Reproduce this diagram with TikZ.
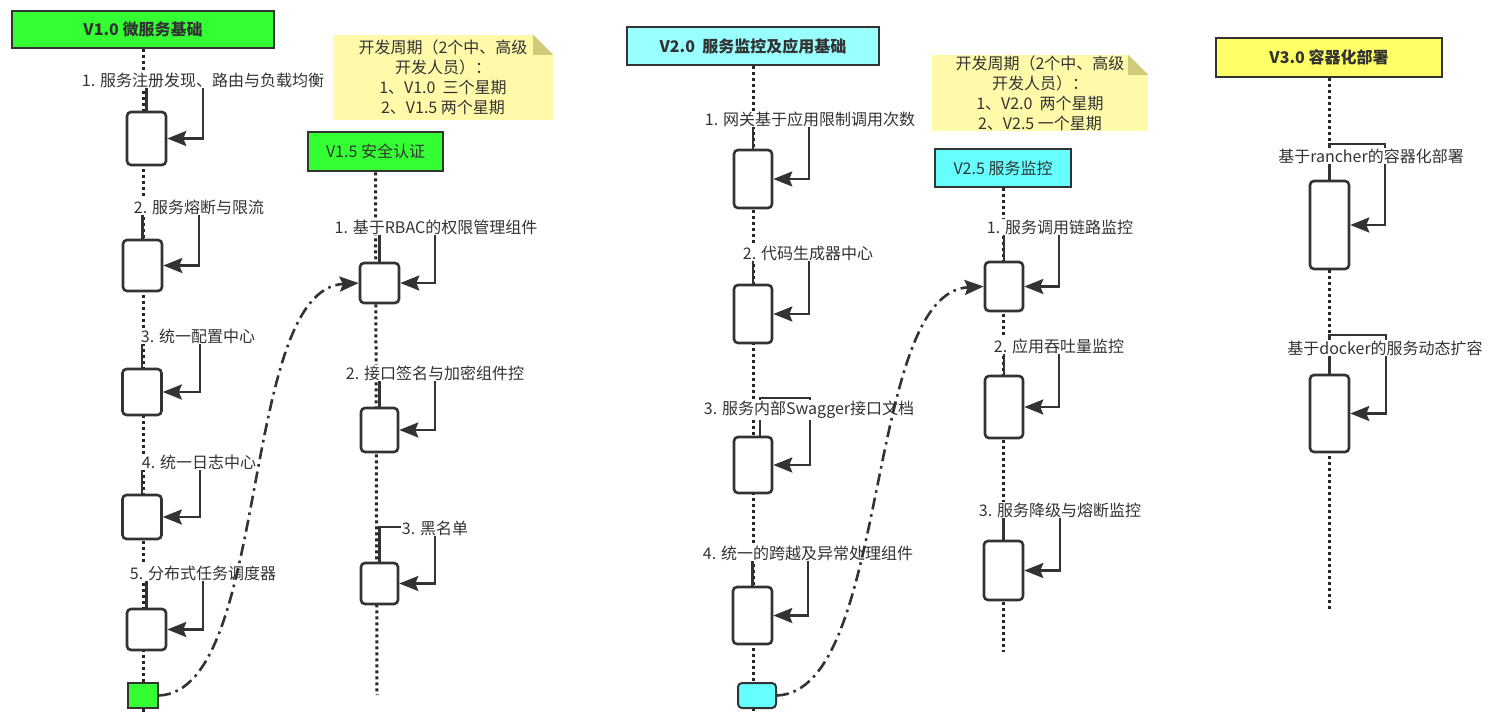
\documentclass[tikz,border=0pt]{standalone}
\usepackage{fontspec}
\setmainfont{Noto Sans CJK SC}
\usetikzlibrary{arrows.meta,backgrounds}
\definecolor{ink}{HTML}{333333}
\definecolor{hdrgreen}{HTML}{33FF33}
\definecolor{hdrcyan}{HTML}{99FFFF}
\definecolor{hdraqua}{HTML}{66FFFF}
\definecolor{hdryellow}{HTML}{FFFF66}
\definecolor{notefill}{HTML}{FFFAAA}
\definecolor{notefold}{HTML}{CFCB78}

\begin{document}
\begin{tikzpicture}[x=1pt, y=-1pt,
    hdr/.style={draw=ink, line width=2.6pt, text=ink, inner sep=0pt, font=\fontsize{16}{20}\selectfont},
    act/.style={draw=ink, line width=2.6pt, fill=white, rounded corners=4pt, inner sep=0pt, minimum width=39pt},
    lbl/.style={fill=white, text=ink, inner sep=1pt, font=\fontsize{16}{20}\selectfont},
    msg/.style={draw=ink, line width=2.6pt, -{Stealth[length=19pt,width=15pt,inset=3pt]}},
    life/.style={draw=black!85, line width=3pt, dash pattern=on 3pt off 3pt},
    async/.style={draw=ink, line width=2.6pt, dash pattern=on 12pt off 5pt on 2.6pt off 5pt, -{Stealth[length=19pt,width=15pt,inset=3pt]}},
    note/.style={fill=notefill, text=ink, align=center, inner sep=0pt, font=\fontsize{16}{20}\selectfont}
]
\useasboundingbox (0,0) rectangle (1493,714);

% headers
\node[hdr, fill=hdrgreen, minimum width=262pt, minimum height=37pt, font=\fontsize{16}{20}\selectfont\bfseries] (v10) at (143,29.5) {V1.0 微服务基础};
\node[hdr, fill=hdrgreen, minimum width=135pt, minimum height=39pt] (v15) at (375.5,151.5) {V1.5 安全认证};
\node[hdr, fill=hdrcyan, minimum width=252pt, minimum height=38pt, font=\fontsize{16}{20}\selectfont\bfseries] (v20) at (753,46) {V2.0\ \ 服务监控及应用基础};
\node[hdr, fill=hdraqua, minimum width=136pt, minimum height=38pt] (v25) at (1003,168) {V2.5 服务监控};
\node[hdr, fill=hdryellow, minimum width=226pt, minimum height=39pt, font=\fontsize{16}{20}\selectfont\bfseries] (v30) at (1329,57.5) {V3.0 容器化部署};

% notes
\node[note, minimum width=220pt, minimum height=85pt] (n1) at (443,77.5) {开发周期（2个中、高级\\开发人员）：\\1、V1.0\ \ 三个星期\\2、V1.5 两个星期};
\fill[white] ([xshift=-20pt]n1.north east) -- (n1.north east) -- ([yshift=-20pt]n1.north east) -- cycle;
\fill[notefold] ([xshift=-20pt]n1.north east) -- ([yshift=-20pt]n1.north east) -- ([xshift=-20pt,yshift=-20pt]n1.north east) -- cycle;
\node[note, minimum width=216pt, minimum height=76pt] (n2) at (1040,93) {开发周期（2个中、高级\\开发人员）：\\1、V2.0\ \ 两个星期\\2、V2.5 一个星期};
\fill[white] ([xshift=-20pt]n2.north east) -- (n2.north east) -- ([yshift=-20pt]n2.north east) -- cycle;
\fill[notefold] ([xshift=-20pt]n2.north east) -- ([yshift=-20pt]n2.north east) -- ([xshift=-20pt,yshift=-20pt]n2.north east) -- cycle;

% activations V1.0
\node[act, minimum height=53pt] (a1) at (146.5,138.5) {};
\node[act, minimum height=51pt] (a2) at (142.5,265.5) {};
\node[act, minimum height=46pt] (a3) at (142,392) {};
\node[act, minimum height=44pt] (a4) at (142,517) {};
\node[act, minimum height=41pt] (a5) at (146.5,629.5) {};
\node[draw=ink, line width=2pt, fill=hdrgreen, minimum width=30pt, minimum height=25pt, inner sep=0pt] (ga) at (143,695.5) {};
% activations V1.5
\node[act, minimum height=40pt] (b1) at (379.5,283) {};
\node[act, minimum width=37pt, minimum height=44pt] (b2) at (379.5,430) {};
\node[act, minimum width=37pt, minimum height=41pt] (b3) at (379.5,583.5) {};
% activations V2.0
\node[act, minimum width=38pt, minimum height=58pt] (c1) at (753,179) {};
\node[act, minimum width=38pt, minimum height=58pt] (c2) at (753,314) {};
\node[act, minimum width=38pt, minimum height=56pt] (c3) at (753,465) {};
\node[act, minimum height=57pt] (c4) at (752.5,615.5) {};
\node[act, line width=2pt, fill=hdraqua, minimum width=38pt, minimum height=25pt] (gc) at (757,695.5) {};
% activations V2.5
\node[act, minimum width=38pt, minimum height=49pt] (d1) at (1004,286.5) {};
\node[act, minimum width=38pt, minimum height=62pt] (d2) at (1004,407) {};
\node[act, minimum height=59pt] (d3) at (1003.5,570.5) {};
% activations V3.0
\node[act, minimum height=88pt] (e1) at (1329.5,225) {};
\node[act, minimum height=77pt] (e2) at (1329.5,413.5) {};

% lifeline ends and message corners
\coordinate (v10end) at (143,714);
\coordinate (v15end) at (377,695);
\coordinate (v20end) at (753,714);
\coordinate (v25end) at (1003,652);
\coordinate (v30end) at (1329,610);
\coordinate (a1k) at (203,80);
\coordinate (a2k) at (199,207);
\coordinate (a3k) at (200,336);
\coordinate (a4k) at (200,462);
\coordinate (a5k) at (203,573);
\coordinate (b1k) at (435,227);
\coordinate (b2k) at (435,373);
\coordinate (b3k) at (435,527);
\coordinate (c1k) at (809,119);
\coordinate (c2k) at (809,253);
\coordinate (c3k) at (810,398);
\coordinate (c4k) at (808,553);
\coordinate (d1k) at (1059,227);
\coordinate (d2k) at (1059,346);
\coordinate (d3k) at (1060,510);
\coordinate (e1k) at (1385,144);
\coordinate (e2k) at (1386,335);

\begin{scope}[on background layer]
\draw[life] (v10.south) -- (v10end);
\draw[life] (v15.south) -- (v15end);
\draw[life] (v20.south) -- (v20end);
\draw[life] (v25.south) -- (v25end);
\draw[life] (v30.south) -- (v30end);
\foreach \b in {a1,a2,a3,a4,a5,b1,b2,b3,c1,c2,c4,d1,d2,d3,e1,e2}
  \draw[msg] (\b.north) |- (\b k) |- (\b.east);
\draw[msg] ([xshift=7pt]c3.north) |- (c3k) |- (c3.east);
\end{scope}

% message labels
\node[lbl] (a1t) at (203,80) {1. 服务注册发现、路由与负载均衡};
\node[lbl] (a2t) at (199,207) {2. 服务熔断与限流};
\node[lbl] (a3t) at (198,336) {3. 统一配置中心};
\node[lbl] (a4t) at (199,462) {4. 统一日志中心};
\node[lbl] (a5t) at (203,573) {5. 分布式任务调度器};
\node[lbl] (b1t) at (436,227) {1. 基于RBAC的权限管理组件};
\node[lbl] (b2t) at (435,373) {2. 接口签名与加密组件控};
\node[lbl] (b3t) at (435,528) {3. 黑名单};
\node[lbl] (c1t) at (810,119) {1. 网关基于应用限制调用次数};
\node[lbl] (c2t) at (808,253) {2. 代码生成器中心};
\node[lbl] (c3t) at (809,410) {3. 服务内部Swagger接口文档};
\node[lbl] (c4t) at (808,553) {4. 统一的跨越及异常处理组件};
\node[lbl] (d1t) at (1060,227) {1. 服务调用链路监控};
\node[lbl] (d2t) at (1059,346) {2. 应用吞吐量监控};
\node[lbl] (d3t) at (1060,510) {3. 服务降级与熔断监控};
\node[lbl] (e1t) at (1371,156) {基于rancher的容器化部署};
\node[lbl] (e2t) at (1385,348) {基于docker的服务动态扩容};

% hand-over between versions
\draw[async] (ga.east) .. controls +(112,-5) and +(-120,7) .. (b1.west);
\draw[async] (gc.east) .. controls +(114,-5) and +(-120,6) .. (d1.west);
\end{tikzpicture}
\end{document}
